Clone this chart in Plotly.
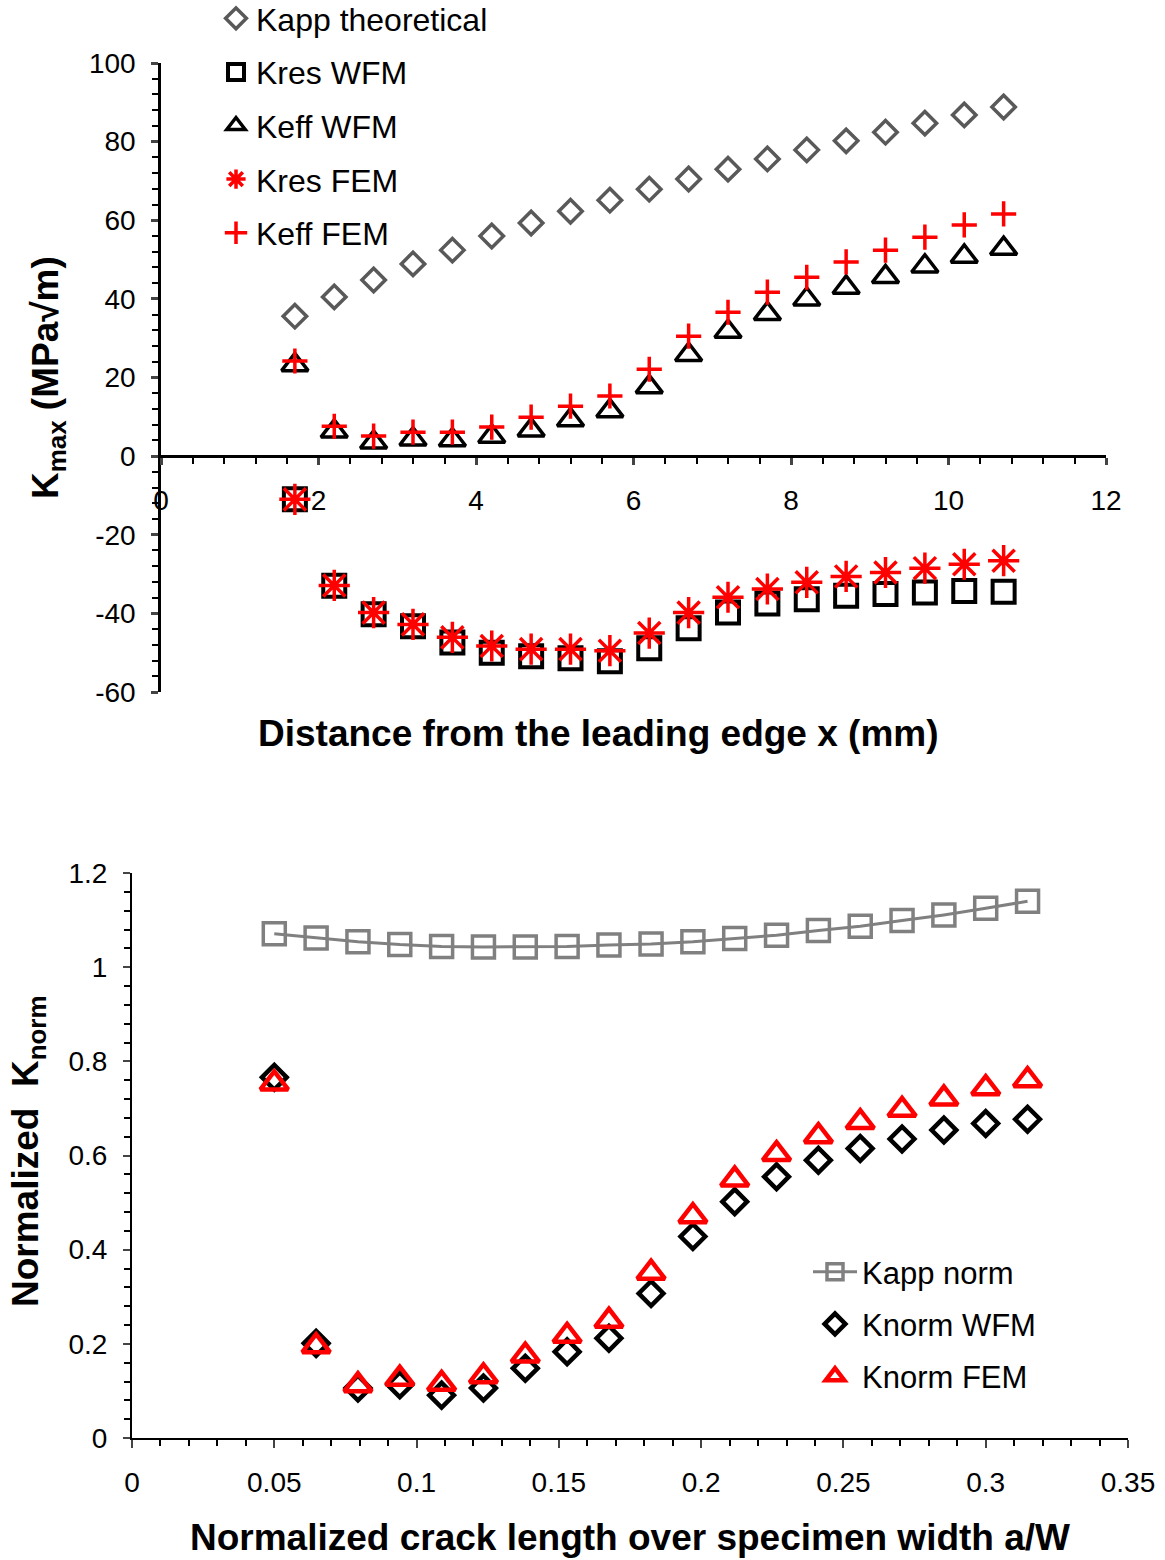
import plotly.graph_objects as go

# ---------------- data (top chart) ----------------
x_mm = [1.7, 2.2, 2.7, 3.2, 3.7, 4.2, 4.7, 5.2, 5.7, 6.2, 6.7, 7.2, 7.7, 8.2, 8.7, 9.2, 9.7, 10.2, 10.7]
kapp_theoretical = [35.6, 40.5, 44.8, 48.9, 52.4, 56.0, 59.3, 62.3, 65.1, 67.9, 70.5, 73.0, 75.6, 77.9, 80.2, 82.4, 84.7, 86.8, 88.8]
kres_wfm = [-11.0, -33.0, -40.2, -43.3, -47.4, -50.0, -50.9, -51.4, -52.2, -48.9, -43.8, -39.8, -37.5, -36.4, -35.5, -35.1, -34.7, -34.3, -34.5]
keff_wfm = [23.2, 6.3, 3.5, 4.3, 4.1, 5.0, 6.6, 9.2, 11.5, 17.6, 25.8, 31.7, 36.2, 39.9, 42.9, 45.6, 48.3, 50.8, 52.8]
kres_fem = [-11.0, -32.9, -39.8, -42.8, -46.1, -48.3, -49.1, -49.1, -49.5, -45.0, -39.8, -35.9, -33.8, -32.1, -30.6, -29.6, -28.5, -27.5, -26.6]
keff_fem = [24.2, 7.6, 5.1, 6.1, 6.1, 7.4, 9.9, 12.7, 15.3, 22.1, 30.5, 36.6, 41.7, 45.5, 49.4, 52.4, 55.7, 58.8, 61.6]

top_x_ticks = [0, 2, 4, 6, 8, 10, 12]
top_y_ticks = [-60, -40, -20, 0, 20, 40, 60, 80, 100]
top_y_ticktext = ["-60", "-40", "-20", "0", "20", "40", "60", "80", "100"]

# ---------------- data (bottom chart) ----------------
a_over_w = [0.05, 0.0647, 0.0794, 0.0941, 0.1088, 0.1235, 0.1382, 0.1529, 0.1676, 0.1824,
            0.1971, 0.2118, 0.2265, 0.2412, 0.2559, 0.2706, 0.2853, 0.3, 0.3147]
kapp_norm = [1.071, 1.062, 1.054, 1.048, 1.044, 1.043, 1.043, 1.044, 1.047, 1.049,
             1.054, 1.061, 1.068, 1.078, 1.087, 1.099, 1.111, 1.125, 1.140]
knorm_wfm = [0.766, 0.201, 0.106, 0.113, 0.091, 0.106, 0.148, 0.183, 0.212, 0.307,
             0.428, 0.502, 0.555, 0.590, 0.615, 0.635, 0.654, 0.668, 0.677]
knorm_fem = [0.753, 0.195, 0.112, 0.126, 0.115, 0.131, 0.175, 0.217, 0.249, 0.351,
             0.471, 0.549, 0.603, 0.641, 0.671, 0.697, 0.721, 0.743, 0.760]

W, H = 1165, 1560
FONT = "Liberation Sans, Arial, sans-serif"

def px_x(p):
    return p / W

def px_y(p):
    return 1 - p / H

top_xdom = [px_x(161), px_x(1106)]
top_ydom = [px_y(692), px_y(63)]
bot_xdom = [px_x(132), px_x(1128)]
bot_ydom = [px_y(1438), px_y(873)]

top_yrange = [-60, 100]
zero_pos = top_ydom[0] + (0 - top_yrange[0]) / (top_yrange[1] - top_yrange[0]) * (top_ydom[1] - top_ydom[0])

fig = go.Figure()

# top traces
fig.add_trace(go.Scatter(x=x_mm, y=kapp_theoretical, mode="markers", name="Kapp theoretical",
                         legend="legend", legendgroup="a",
                         marker=dict(symbol="diamond-open", size=18, color="#595959",
                                     line=dict(width=3.5, color="#595959")),
                         xaxis="x", yaxis="y"))
fig.add_trace(go.Scatter(x=x_mm, y=kres_wfm, mode="markers", name="Kres WFM",
                         legend="legend", legendgroup="b",
                         marker=dict(symbol="square-open", size=22, color="black",
                                     line=dict(width=4, color="black")),
                         xaxis="x", yaxis="y"))
fig.add_trace(go.Scatter(x=x_mm, y=keff_wfm, mode="markers", name="Keff WFM",
                         legend="legend", legendgroup="c",
                         marker=dict(symbol="triangle-up-open", size=23, color="black",
                                     line=dict(width=3.5, color="black")),
                         xaxis="x", yaxis="y"))
fig.add_trace(go.Scatter(x=x_mm, y=kres_fem, mode="markers", name="Kres FEM",
                         legend="legend", legendgroup="d",
                         marker=dict(symbol="asterisk-open", size=26, color="red",
                                     line=dict(width=3.5, color="red")),
                         xaxis="x", yaxis="y"))
fig.add_trace(go.Scatter(x=x_mm, y=keff_fem, mode="markers", name="Keff FEM",
                         legend="legend", legendgroup="e",
                         marker=dict(symbol="cross-thin-open", size=18, color="red",
                                     line=dict(width=3.5, color="red")),
                         xaxis="x", yaxis="y"))

# bottom traces
fig.add_trace(go.Scatter(x=a_over_w, y=kapp_norm, mode="lines+markers", name="Kapp norm",
                         legend="legend2", legendgroup="f",
                         line=dict(color="#808080", width=3),
                         marker=dict(symbol="square-open", size=22, color="#808080",
                                     line=dict(width=3.5, color="#808080")),
                         xaxis="x2", yaxis="y2"))
fig.add_trace(go.Scatter(x=a_over_w, y=knorm_wfm, mode="markers", name="Knorm WFM",
                         legend="legend2", legendgroup="g",
                         marker=dict(symbol="diamond-open", size=19, color="black",
                                     line=dict(width=4.5, color="black")),
                         xaxis="x2", yaxis="y2"))
fig.add_trace(go.Scatter(x=a_over_w, y=knorm_fem, mode="markers", name="Knorm FEM",
                         legend="legend2", legendgroup="h",
                         marker=dict(symbol="triangle-up-open", size=24, color="red",
                                     line=dict(width=4.5, color="red")),
                         xaxis="x2", yaxis="y2"))

tickfont = dict(family=FONT, size=28, color="black")

fig.update_layout(
    width=W, height=H,
    margin=dict(l=0, r=0, t=0, b=0, autoexpand=False),
    paper_bgcolor="white", plot_bgcolor="white",
    font=dict(family=FONT, color="black"),
    xaxis=dict(domain=top_xdom, range=[0, 12], anchor="free", position=zero_pos,
               tickvals=top_x_ticks, ticks="outside", ticklen=7, tickwidth=2.5,
               showline=True, linecolor="black", linewidth=2.5, showgrid=False, zeroline=False,
               tickfont=tickfont, ticklabelstandoff=12,
               minor=dict(dtick=0.4, ticks="outside", ticklen=6, tickwidth=2, tickcolor="black", showgrid=False)),
    yaxis=dict(domain=top_ydom, range=top_yrange, anchor="x",
               tickvals=top_y_ticks, ticktext=top_y_ticktext, ticks="outside", ticklen=7, tickwidth=2.5,
               showline=True, linecolor="black", linewidth=2.5, showgrid=False, zeroline=False,
               tickfont=tickfont, ticklabelstandoff=10,
               minor=dict(dtick=4, ticks="outside", ticklen=6, tickwidth=2, tickcolor="black", showgrid=False)),
    xaxis2=dict(domain=bot_xdom, range=[0, 0.35], anchor="y2",
                dtick=0.05, tick0=0, ticks="outside", ticklen=8, tickwidth=2,
                showline=True, linecolor="black", linewidth=2, showgrid=False, zeroline=False,
                tickfont=tickfont, ticklabelstandoff=10,
                minor=dict(dtick=0.01, ticks="outside", ticklen=6, tickwidth=1.5, tickcolor="black", showgrid=False)),
    yaxis2=dict(domain=bot_ydom, range=[0, 1.2], anchor="x2",
                dtick=0.2, tick0=0, ticks="outside", ticklen=7, tickwidth=2,
                showline=True, linecolor="black", linewidth=2, showgrid=False, zeroline=False,
                tickfont=tickfont, ticklabelstandoff=10,
                minor=dict(dtick=0.04, ticks="outside", ticklen=6, tickwidth=1.5, tickcolor="black", showgrid=False)),
    legend=dict(x=px_x(216), y=px_y(-9), xanchor="left", yanchor="top",
                font=dict(family=FONT, size=32, color="black"),
                bgcolor="rgba(0,0,0,0)", tracegroupgap=9, itemwidth=30),
    legend2=dict(x=px_x(808), y=px_y(1245), xanchor="left", yanchor="top",
                 font=dict(family=FONT, size=31, color="black"),
                 bgcolor="rgba(0,0,0,0)", tracegroupgap=9, itemwidth=44),
    annotations=[
        dict(text="<b>Distance from the leading edge x (mm)</b>", x=px_x(598), y=px_y(733),
             xref="paper", yref="paper", showarrow=False, xanchor="center", yanchor="middle",
             font=dict(family=FONT, size=37, color="black")),
        dict(text="<b>K<sub>max</sub> (MPa√m)</b>", x=px_x(48), y=px_y(378),
             xref="paper", yref="paper", showarrow=False, xanchor="center", yanchor="middle",
             textangle=-90, font=dict(family=FONT, size=37, color="black")),
        dict(text="<b>Normalized crack length over specimen width a/W</b>", x=px_x(630), y=px_y(1537),
             xref="paper", yref="paper", showarrow=False, xanchor="center", yanchor="middle",
             font=dict(family=FONT, size=37, color="black")),
        dict(text="<b>Normalized&nbsp; K<sub>norm</sub></b>", x=px_x(28), y=px_y(1152),
             xref="paper", yref="paper", showarrow=False, xanchor="center", yanchor="middle",
             textangle=-90, font=dict(family=FONT, size=37, color="black")),
    ],
)

fig.write_html("out.html", config={"displayModeBar": False},
               post_script="document.body.style.margin='0px';")
